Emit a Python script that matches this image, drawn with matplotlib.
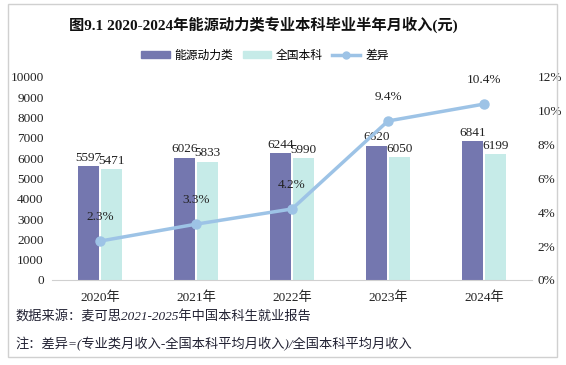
import matplotlib
matplotlib.use("Agg")
import matplotlib.pyplot as plt
from matplotlib.patches import Rectangle
from matplotlib.lines import Line2D
from matplotlib.patches import Patch

plt.rcParams['font.family'] = ['Liberation Serif', 'Noto Sans CJK SC', 'DejaVu Sans']

years = ["2020年", "2021年", "2022年", "2023年", "2024年"]
major = [5597, 6026, 6244, 6620, 6841]
national = [5471, 5833, 5990, 6050, 6199]
diff = [2.3, 3.3, 4.2, 9.4, 10.4]
diff_labels = ["2.3%", "3.3%", "4.2%", "9.4%", "10.4%"]

c_major = "#7477AF"
c_nat = "#C6EBE8"
c_line = "#9DC3E6"

fig = plt.figure(figsize=(5.66, 3.65), dpi=100)
fig.patches.append(Rectangle((8/566, 1-357/365), 549/566, 353/365, transform=fig.transFigure,
                             fill=False, edgecolor="#D0D0D0", linewidth=1))

ax = fig.add_axes([52/566, 1-280/365, 480/566, 203/365])
x = list(range(len(years)))
w = 0.21
off = 0.12
ax.bar([i - off for i in x], major, width=w, color=c_major, zorder=2)
ax.bar([i + off for i in x], national, width=w, color=c_nat, zorder=2)
for i in x:
    ax.text(i - off, major[i] + 120, str(major[i]), ha="center", va="bottom",
            fontsize=9.5, color="#222222", family="Liberation Serif")
    ax.text(i + off, national[i] + 120, str(national[i]), ha="center", va="bottom",
            fontsize=9.5, color="#222222", family="Liberation Serif")
ax.set_xlim(-0.5, len(years) - 0.5)
ax.set_ylim(0, 10000)
ax.set_yticks(range(0, 10001, 1000))
ax.set_xticks(x)
ax.set_xticklabels(years, fontsize=9, color="#222222")
ax.tick_params(axis="both", length=0, labelsize=9.5, colors="#222222")
ax.tick_params(axis="x", pad=8)
ax.tick_params(axis="y", pad=6)
for s in ["top", "left", "right"]:
    ax.spines[s].set_visible(False)
ax.spines["bottom"].set_color("#D0D0D0")

ax2 = ax.twinx()
ax2.plot(x, diff, color=c_line, linewidth=2.5, marker="o", markersize=6.5, zorder=3)
for i in x:
    ax2.text(x[i], diff[i] + 1.05, diff_labels[i], ha="center", va="bottom",
             fontsize=9.5, color="#222222", family="Liberation Serif")
ax2.set_ylim(0, 12)
ax2.set_yticks(range(0, 13, 2))
ax2.set_yticklabels([f"{v}%" for v in range(0, 13, 2)])
ax2.tick_params(axis="y", length=0, labelsize=9.5, colors="#222222", pad=4)
for s in ["top", "left", "right", "bottom"]:
    ax2.spines[s].set_visible(False)

fig.text(263/566, 1-25/365, "图9.1 2020-2024年能源动力类专业本科毕业半年月收入(元)",
         ha="center", va="center", fontsize=11, fontweight="bold", color="#111111")

handles = [Patch(color=c_major), Patch(color=c_nat),
           Line2D([0], [0], color=c_line, linewidth=2.5, marker="o", markersize=5)]
fig.legend(handles, ["能源动力类", "全国本科", "差异"], loc="center",
           bbox_to_anchor=(265/566, 1-55/365), ncol=3, frameon=False,
           handlelength=2.4, handleheight=0.6, columnspacing=0.8,
           handletextpad=0.4, prop={"family": ["Noto Sans CJK SC"], "size": 8.5})

fig.text(15/566, 1-316/365, "数据来源：麦可思2021-2025年中国本科生就业报告",
         ha="left", va="center", fontsize=9.5, color="#222233", style="italic")
fig.text(15/566, 1-344/365, "注：差异=(专业类月收入-全国本科平均月收入)/全国本科平均月收入",
         ha="left", va="center", fontsize=9.5, color="#222233", style="italic")

fig.savefig("out.png", dpi=100)
